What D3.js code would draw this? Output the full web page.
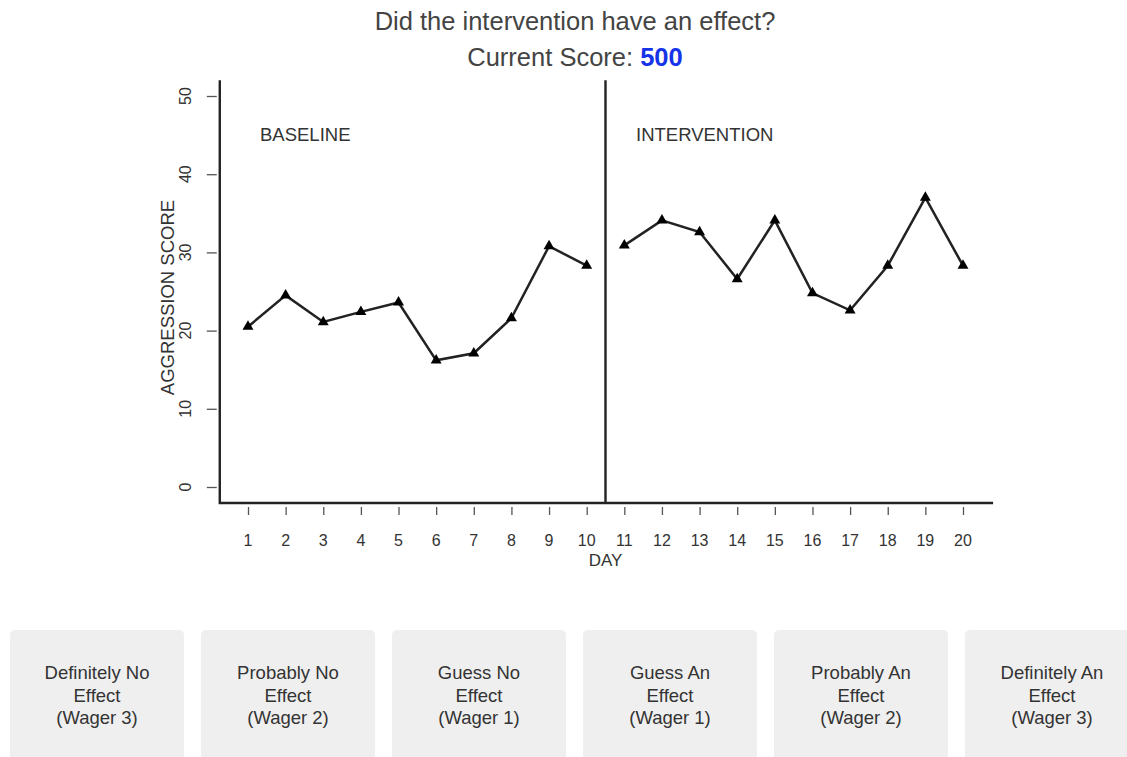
<!DOCTYPE html>
<html>
<head>
<meta charset="utf-8">
<script src="https://cdn.jsdelivr.net/npm/d3@7"></script>
<style>
  html, body { margin: 0; padding: 0; background: #fff; }
  svg { display: block; }
  text { font-family: "Liberation Sans", Arial, Helvetica, sans-serif; }
</style>
</head>
<body>
<svg id="chart" width="1127" height="757"></svg>
<script>
// ---- data ----
const days = [1,2,3,4,5,6,7,8,9,10,11,12,13,14,15,16,17,18,19,20];
const baselineValues = [20.5, 24.5, 21.1, 22.4, 23.6, 16.2, 17.1, 21.6, 30.8, 28.3];
const interventionValues = [30.9, 34.1, 32.6, 26.6, 34.1, 24.8, 22.6, 28.3, 37.0, 28.3];
const yTicks = [0, 10, 20, 30, 40, 50];
const phaseLabels = ["BASELINE", "INTERVENTION"];
const buttonLabels = [
  ["Definitely No", "Effect", "(Wager 3)"],
  ["Probably No", "Effect", "(Wager 2)"],
  ["Guess No", "Effect", "(Wager 1)"],
  ["Guess An", "Effect", "(Wager 1)"],
  ["Probably An", "Effect", "(Wager 2)"],
  ["Definitely An", "Effect", "(Wager 3)"]
];
const titleText = "Did the intervention have an effect?";
const scoreLabel = "Current Score: ";
const scoreValue = 500;

// ---- scales ----
const svg = d3.select("#chart");
const x = d3.scaleLinear().domain([1, 20]).range([248, 963]);
const y = d3.scaleLinear().domain([0, 50]).range([487, 96]);

// ---- title ----
svg.append("text")
  .attr("x", 575).attr("y", 30)
  .attr("text-anchor", "middle")
  .attr("font-size", 25.5)
  .attr("fill", "#444")
  .text(titleText);

const score = svg.append("text")
  .attr("x", 575).attr("y", 66)
  .attr("text-anchor", "middle")
  .attr("font-size", 25.5)
  .attr("fill", "#444");
score.append("tspan").text(scoreLabel);
score.append("tspan").attr("font-weight", "bold").attr("fill", "#1533e8").text(scoreValue);

// ---- frame (L-shaped) ----
const xLeft = x(0.25), xRight = x(20.8);
const yTop = y(52), yBottom = y(-2.05);
svg.append("path")
  .attr("d", `M${xLeft},${yTop} L${xLeft},${yBottom} L${xRight},${yBottom}`)
  .attr("fill", "none")
  .attr("stroke", "#222")
  .attr("stroke-width", 2.4);

// phase change line
svg.append("line")
  .attr("x1", x(10.5)).attr("x2", x(10.5))
  .attr("y1", yTop).attr("y2", yBottom)
  .attr("stroke", "#222").attr("stroke-width", 2.4);

// ---- y axis ----
const yAxis = d3.axisLeft(y).tickValues(yTicks).tickSize(10).tickFormat("");
const gy = svg.append("g").attr("transform", `translate(${xLeft - 3},0)`).call(yAxis);
gy.select(".domain").remove();
gy.selectAll(".tick line").attr("stroke", "#555").attr("stroke-width", 1.3);
svg.append("g").selectAll("text").data(yTicks).join("text")
  .attr("transform", d => `translate(185,${y(d)}) rotate(-90)`)
  .attr("text-anchor", "middle")
  .attr("dominant-baseline", "central")
  .attr("font-size", 16)
  .attr("fill", "#333")
  .text(d => d);

svg.append("text")
  .attr("transform", `translate(167,${(y(0) + y(50)) / 2 + 6}) rotate(-90)`)
  .attr("text-anchor", "middle")
  .attr("dominant-baseline", "central")
  .attr("font-size", 18.5)
  .attr("fill", "#333")
  .text("AGGRESSION SCORE");

// ---- x axis ----
const xAxis = d3.axisBottom(x).tickValues(days).tickSize(8).tickFormat("");
const gx = svg.append("g").attr("transform", `translate(0,${yBottom + 4})`).call(xAxis);
gx.select(".domain").remove();
gx.selectAll(".tick line").attr("stroke", "#555").attr("stroke-width", 1.3);
svg.append("g").selectAll("text").data(days).join("text")
  .attr("x", d => x(d)).attr("y", 546)
  .attr("text-anchor", "middle")
  .attr("font-size", 16)
  .attr("fill", "#333")
  .text(d => d);

svg.append("text")
  .attr("x", x(10.5)).attr("y", 566)
  .attr("text-anchor", "middle")
  .attr("font-size", 17)
  .attr("fill", "#333")
  .text("DAY");

// ---- phase labels ----
svg.append("text").attr("x", 260).attr("y", 141)
  .attr("font-size", 18.5).attr("fill", "#333").text(phaseLabels[0]);
svg.append("text").attr("x", 636).attr("y", 141)
  .attr("font-size", 18.5).attr("fill", "#333").text(phaseLabels[1]);

// ---- data series ----
const line = d3.line().x(d => x(d.day)).y(d => y(d.v));
const series = [
  baselineValues.map((v, i) => ({ day: days[i], v })),
  interventionValues.map((v, i) => ({ day: days[i + 10], v }))
];
series.forEach(s => {
  svg.append("path")
    .datum(s)
    .attr("d", line)
    .attr("fill", "none")
    .attr("stroke", "#222")
    .attr("stroke-width", 2.5);
  svg.append("g").selectAll("path").data(s).join("path")
    .attr("d", d3.symbol(d3.symbolTriangle, 52))
    .attr("transform", d => `translate(${x(d.day)},${y(d.v)})`)
    .attr("fill", "#000");
});

// ---- buttons ----
const bx = d3.scaleBand().domain(d3.range(buttonLabels.length))
  .range([10, 10 + 191 * 6 - 17]).paddingInner(17 / 191);
const bg = svg.append("g").selectAll("g").data(buttonLabels).join("g")
  .attr("transform", (d, i) => `translate(${bx(i)},630)`);
bg.append("rect")
  .attr("width", bx.bandwidth()).attr("height", 140)
  .attr("rx", 5).attr("ry", 5)
  .attr("fill", "#efefef");
bg.each(function(lines) {
  const g = d3.select(this);
  lines.forEach((t, j) => {
    g.append("text")
      .attr("x", bx.bandwidth() / 2)
      .attr("y", 49 + j * 22.5)
      .attr("text-anchor", "middle")
      .attr("font-size", 18.5)
      .attr("fill", "#333")
      .text(t);
  });
});
</script>
</body>
</html>
